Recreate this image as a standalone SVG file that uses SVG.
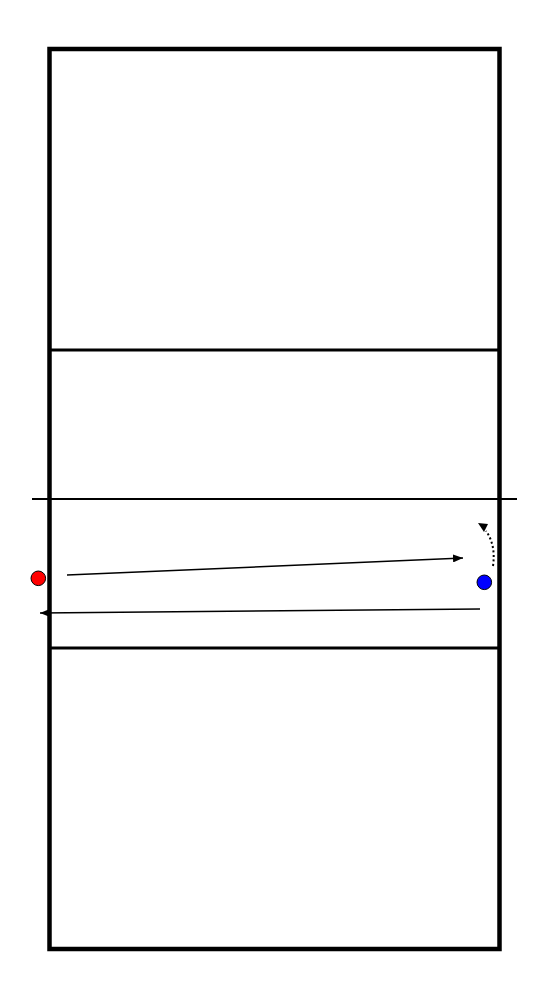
<svg xmlns="http://www.w3.org/2000/svg" width="550" height="1000" viewBox="0 0 550 1000">
<style>
.court{fill:none;stroke:#000;stroke-width:4.5}
.line{stroke:#000;stroke-width:3}
.net{stroke:#000;stroke-width:2}
.move{fill:none;stroke:#000;stroke-width:1.5}
.dot{fill:none;stroke:#000;stroke-width:2;stroke-dasharray:2 2.5}
</style>
<defs>
<marker id="ah" viewBox="0 0 10 8" refX="10" refY="4" markerWidth="10" markerHeight="8" markerUnits="userSpaceOnUse" orient="auto">
<path d="M0,0 L10,4 L0,8 Z" fill="#000"/>
</marker>
</defs>
<rect width="550" height="1000" fill="#fff"/>
<g id="court">
<rect class="court" x="49.5" y="49" width="450" height="900"/>
<line class="line" x1="49.5" y1="350" x2="499.5" y2="350"/>
<line class="line" x1="49.5" y1="648" x2="499.5" y2="648"/>
<line class="net" x1="32" y1="499" x2="517" y2="499"/>
</g>
<g id="connectors">
<path class="move" d="M67,575 L463,558" marker-end="url(#ah)"/>
<path class="move" d="M480,609 L40,613" marker-end="url(#ah)"/>
<path class="dot" d="M493,566 Q496,545 486,531"/>
<polygon points="478,523 488,524 484,532" fill="#000"/>
</g>
<g id="player-red">
<circle cx="38.3" cy="578.3" r="7.3" fill="#f00" stroke="#000" stroke-width="1"/>
</g>
<g id="player-blue">
<circle cx="484.3" cy="582.3" r="7.3" fill="#00f" stroke="#000" stroke-width="1"/>
</g>
</svg>
